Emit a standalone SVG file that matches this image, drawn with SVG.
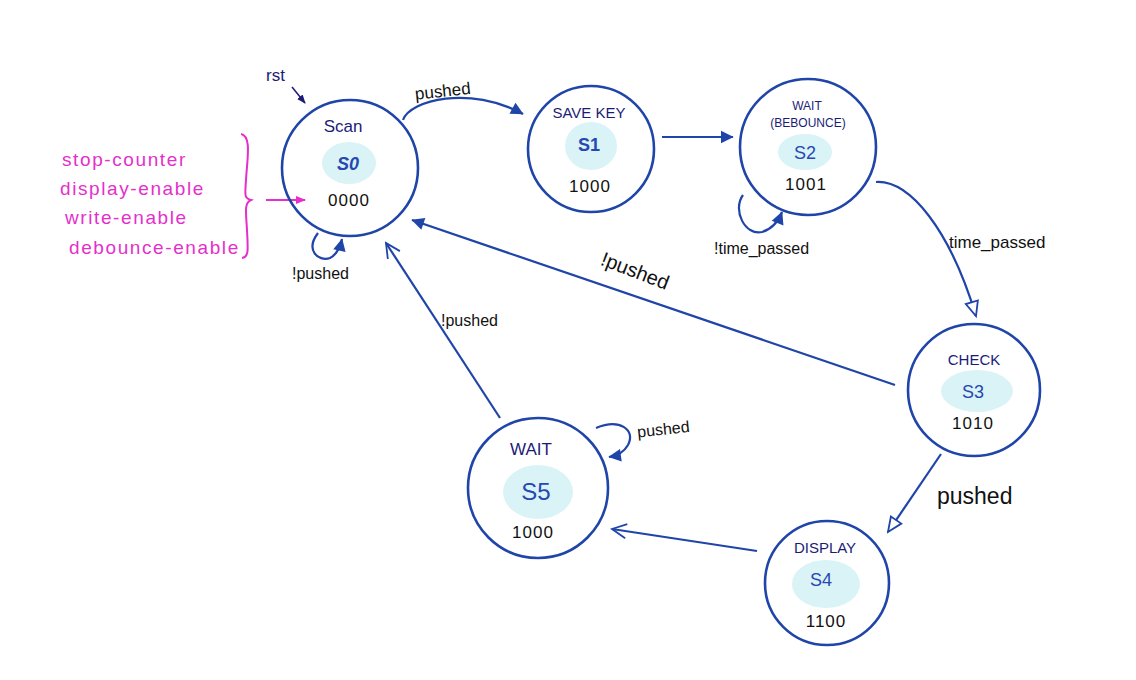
<svg xmlns="http://www.w3.org/2000/svg" width="1136" height="680" viewBox="0 0 1136 680">
<style>
.ring{fill:none;stroke:#1f45a8;stroke-width:2.6}
.blob{fill:#daf3f7}
.name{font-family:"Liberation Sans",Arial,sans-serif;font-size:15px;fill:#1c1c78;text-anchor:middle}
.sid{font-family:"Liberation Sans",Arial,sans-serif;font-size:18px;fill:#2648b0;text-anchor:middle}
.val{font-family:"Liberation Sans",Arial,sans-serif;font-size:17px;fill:#111;text-anchor:middle;letter-spacing:1px}
.lbl{font-family:"Liberation Sans",Arial,sans-serif;font-size:16px;fill:#111}
.pink{font-family:"Liberation Sans",Arial,sans-serif;font-size:19px;fill:#e52fcb;letter-spacing:1.6px}
.edge{fill:none;stroke:#1f45a8;stroke-width:2.2}
</style>
<defs>
<marker id="fill" viewBox="0 0 10 10" refX="9" refY="5" markerWidth="7" markerHeight="7" orient="auto" markerUnits="userSpaceOnUse" style="overflow:visible">
<path d="M0,0 L10,5 L0,10 z" fill="#1f45a8" transform="scale(1.8) translate(-4.5,-2.2)"/>
</marker>
<marker id="tri" viewBox="0 0 20 20" refX="18" refY="10" markerWidth="18" markerHeight="18" orient="auto" markerUnits="userSpaceOnUse">
<path d="M2,3 L18,10 L2,17 z" fill="#fff" stroke="#1f45a8" stroke-width="2"/>
</marker>
<marker id="vee" viewBox="0 0 20 20" refX="18" refY="10" markerWidth="18" markerHeight="18" orient="auto" markerUnits="userSpaceOnUse">
<path d="M2,2 L18,10 L2,18" fill="none" stroke="#1f45a8" stroke-width="2"/>
</marker>
<marker id="rstm" viewBox="0 0 10 10" refX="9" refY="5" markerWidth="9" markerHeight="9" orient="auto" markerUnits="userSpaceOnUse">
<path d="M0,1 L10,5 L0,9 z" fill="#1c1c78"/>
</marker>
<marker id="pm" viewBox="0 0 10 10" refX="9" refY="5" markerWidth="10" markerHeight="10" orient="auto" markerUnits="userSpaceOnUse">
<path d="M0,1 L10,5 L0,9 z" fill="#e52fcb"/>
</marker>
</defs>

<g id="connectors">
<path class="edge" d="M403,120 C410,100 470,85 523,114" marker-end="url(#fill)"/>
<text class="lbl" x="415" y="96" transform="rotate(-6 450 92)" style="font-size:17px">pushed</text>
<path class="edge" d="M662,137 L733,137" marker-end="url(#fill)"/>
<path class="edge" d="M743,195 C732,210 745,236 762,232 C772,229 778,222 782,212" marker-end="url(#fill)"/>
<text class="lbl" x="714" y="254">!time_passed</text>
<path class="edge" d="M876,182 C910,180 950,230 976,316" marker-end="url(#tri)"/>
<text class="lbl" x="949" y="248" style="font-size:17px">time_passed</text>
<path class="edge" d="M895,385 L412,220" marker-end="url(#fill)"/>
<text class="lbl" x="596" y="279" transform="rotate(21 637 281)" style="font-size:20px">!pushed</text>
<path class="edge" d="M941,454 L888,532" marker-end="url(#tri)"/>
<text class="lbl" x="937" y="504" style="font-size:23px">pushed</text>
<path class="edge" d="M757,551 L612,529" marker-end="url(#vee)"/>
<path class="edge" d="M500,418 L386,243" marker-end="url(#vee)"/>
<text class="lbl" x="441" y="326">!pushed</text>
<path class="edge" d="M596,428 C620,418 636,430 628,445 C624,452 616,456 609,457" marker-end="url(#fill)"/>
<text class="lbl" x="637" y="434" transform="rotate(-6 670 428)">pushed</text>
<path class="edge" d="M318,233 C305,250 318,262 330,258 C336,255 340,248 342,239" marker-end="url(#fill)"/>
<text class="lbl" x="292" y="279">!pushed</text>
<path d="M292,87 L305,103" fill="none" stroke="#1c1c78" stroke-width="1.6" marker-end="url(#rstm)"/>
<text class="lbl" x="266" y="81" style="fill:#1c1c78;font-size:17px">rst</text>
<path d="M266,200 L305,200" fill="none" stroke="#e52fcb" stroke-width="2" marker-end="url(#pm)"/>
</g>

<g id="outputs">
<text class="pink" x="62" y="166">stop-counter</text>
<text class="pink" x="60" y="195">display-enable</text>
<text class="pink" x="65" y="224">write-enable</text>
<text class="pink" x="69" y="254">debounce-enable</text>
<path d="M241,134 C252,136 247,160 246,180 C245,195 244,198 251,200 C244,203 246,212 247,230 C248,250 249,257 242,258" fill="none" stroke="#e52fcb" stroke-width="2"/>
</g>

<g id="S0">
<circle class="ring" cx="350" cy="168" r="68"/>
<ellipse class="blob" cx="349" cy="163" rx="27" ry="21"/>
<text class="name" x="343" y="132" style="font-size:17px">Scan</text>
<text class="sid" x="348" y="170" font-style="italic" font-weight="bold">S0</text>
<text class="val" x="349" y="206">0000</text>
</g>

<g id="S1">
<circle class="ring" cx="591" cy="149" r="63"/>
<ellipse class="blob" cx="591" cy="146" rx="26" ry="24"/>
<text class="name" x="589" y="118">SAVE KEY</text>
<text class="sid" x="589" y="151" font-weight="bold">S1</text>
<text class="val" x="590" y="192">1000</text>
</g>

<g id="S2">
<circle class="ring" cx="808" cy="147" r="68"/>
<ellipse class="blob" cx="805" cy="152" rx="27" ry="18"/>
<text class="name" x="807" y="110" style="font-size:12px">WAIT</text>
<text class="name" x="808" y="127" style="font-size:12px">(BEBOUNCE)</text>
<text class="sid" x="805" y="159">S2</text>
<text class="val" x="806" y="190">1001</text>
</g>

<g id="S3">
<circle class="ring" cx="974" cy="390" r="66"/>
<ellipse class="blob" cx="977" cy="391" rx="36" ry="21"/>
<text class="name" x="974" y="365">CHECK</text>
<text class="sid" x="973" y="398">S3</text>
<text class="val" x="973" y="429">1010</text>
</g>

<g id="S4">
<circle class="ring" cx="827" cy="583" r="62"/>
<ellipse class="blob" cx="826" cy="584" rx="34" ry="24"/>
<text class="name" x="825" y="553">DISPLAY</text>
<text class="sid" x="821" y="586">S4</text>
<text class="val" x="826" y="627">1100</text>
</g>

<g id="S5">
<circle class="ring" cx="538" cy="488" r="70"/>
<ellipse class="blob" cx="538" cy="492" rx="35" ry="27"/>
<text class="name" x="531" y="455" style="font-size:17px">WAIT</text>
<text class="sid" x="536" y="500" style="font-size:24px">S5</text>
<text class="val" x="533" y="538">1000</text>
</g>
</svg>
